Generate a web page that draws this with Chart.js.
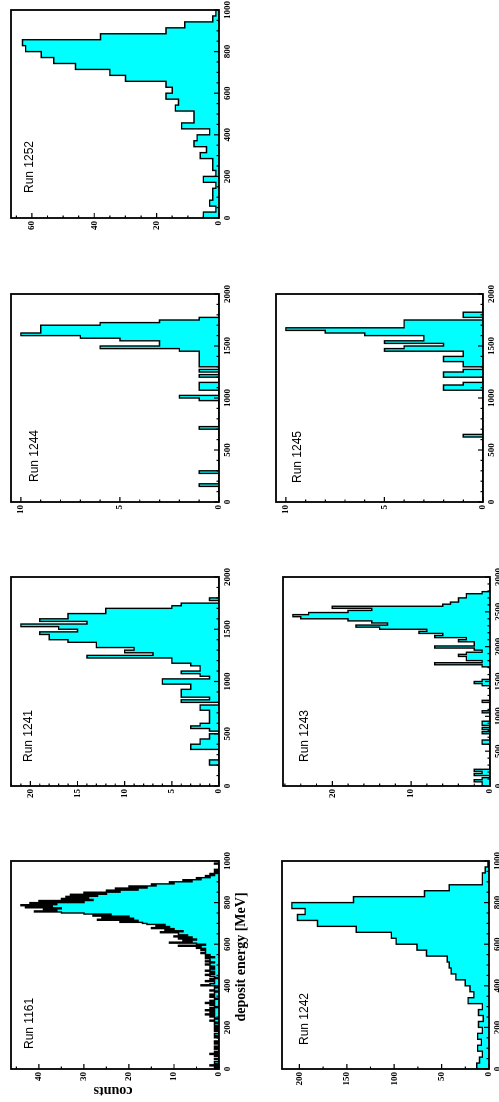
<!DOCTYPE html>
<html><head><meta charset="utf-8">
<script src="https://cdn.jsdelivr.net/npm/chart.js@4.4.0/dist/chart.umd.min.js"></script>
<style>
html,body{margin:0;padding:0;background:#fff;overflow:hidden;width:499px;height:1102px;}
#page{position:absolute;left:0;top:0;width:1102px;height:499px;transform-origin:0 0;transform:translate(0px,1102px) rotate(-90deg);}
#page canvas{position:absolute;}
</style></head><body><div id="page"></div>
<script>
// ---------- data ----------
const runNames = ['Run 1161', 'Run 1241', 'Run 1244', 'Run 1252', 'Run 1242', 'Run 1243', 'Run 1245'];
const xTitle = 'deposit energy [MeV]';
const yTitle = 'counts';

const run1161Range = [0, 1000];
const run1161Counts = [
 0,1,0,2,0,1,1,0,0,1,0,0,1,0,2,0,1,0,0,1,
 0,1,0,0,1,0,1,0,0,0,1,0,1,1,0,0,1,0,1,0,
 1,0,1,1,0,1,2,1,0,1,2,1,3,1,2,1,3,1,2,0,
 1,2,1,3,1,2,1,0,1,2,1,2,1,1,0,2,1,1,0,1,
 4,2,1,1,3,1,2,0,1,2,3,1,2,1,3,2,1,2,1,2,
 3,2,1,3,2,2,3,1,3,2,3,4,3,3,4,3,5,4,9,3,
 5,11,6,8,5,9,6,10,7,9,9,13,8,12,10,15,11,14,12,16,
 17,22,18,27,19,26,20,28,24,30,35,41,36,39,35,43,37,44,36,42,
 30,40,28,35,29,34,27,33,25,30,22,25,18,23,16,20,14,15,10,11,
 6,8,4,5,2,3,1,2,0,1,0,1,0,0,0,0,0,1,0,0];

const run1241Range = [0, 2000];
const run1241Counts = [
 0,0,0,0,0,0,0,0,1,1, 0,0,0,0,3,3,2,2,1,1,
 0,1,3,2,1,1,1,1,1,2, 2,0,4,1,4,4,4,3,3,6,
 6,1,2,4,2,2,3,5,5,14, 7,10,9,13,13,16,18,18,19,15,
 17,21,14,19,16,16,12,12,5,4, 0,1,0,0,0,0,0,0,0,0];

const run1244Range = [0, 2000];
const run1244Counts = [
 0,0,0,0,0,0,1,0,0,0, 0,1,0,0,0,0,0,0,0,0,
 0,0,0,0,0,0,0,0,1,0, 0,0,0,0,0,0,0,0,0,1,
 2,0,0,1,1,1,0,0,1,0, 1,0,1,1,1,1,1,1,2,6,
 3,3,5,7,10,9,9,9,6,3, 1,0,0,0,0,0,0,0,0,0];

const run1252Range = [0, 1000];
const run1252Counts = [5,1,3,2,2,1,5,1,2,2,6,4,8,7,3,12,8,8,14,13,17,15,17,30,35,46,53,57,62,63,38,17,11,2,1];

const run1242Range = [0, 1000];
const run1242Counts = [13,10,7,12,8,12,7,11,6,11,7,22,16,20,25,35,40,42,44,66,76,98,103,140,181,202,194,208,143,68,42,7,7,4,1];

const run1243Range = [0, 3000];
const run1243Counts = [
 1,1,2,1,0,2,1,2,0,0, 0,0,0,0,0,0,0,0,0,0,
 1,1,0,0,0,1,0,1,0,1, 1,0,0,0,0,1,0,0,0,0,
 1,0,0,0,0,0,0,0,1,2, 1,0,0,0,0,0,0,1,7,1,
 3,3,4,3,1,2,7,2,2,4, 3,7,6,9,8,14,17,13,15,18,
 24,25,23,18,15,20,6,5,4,4, 3,3,1,0,0,0,0,0,0,0];

const run1245Range = [0, 2000];
const run1245Counts = [
 0,0,0,0,0,0,0,0,0,0, 0,0,0,0,0,0,0,0,0,0,
 0,0,0,0,0,1,0,0,0,0, 0,0,0,0,0,0,0,0,0,0,
 0,0,0,2,2,1,0,0,2,2, 1,0,1,1,2,2,1,1,5,4,
 2,5,3,3,6,8,10,4,4,4, 0,1,1,0,0,0,0,0,0,0];

const energyTicks1000 = [0, 200, 400, 600, 800, 1000];
const energyTicks2000 = [0, 500, 1000, 1500, 2000];
const energyTicks3000 = [0, 500, 1000, 1500, 2000, 2500, 3000];
const countTicks1161 = [0, 10, 20, 30, 40];
const countTicks1241 = [0, 5, 10, 15, 20];
const countTicks1244 = [0, 5, 10];
const countTicks1252 = [0, 20, 40, 60];
const countTicks1242 = [0, 50, 100, 150, 200];
const countTicks1243 = [0, 10, 20];
const countTicks1245 = [0, 5, 10];
const countMax = [46.2, 22.05, 10.5, 66.7, 218.4, 26.25, 10.5];

const hists = [
 {counts: run1161Counts, range: run1161Range, xTicks: energyTicks1000, yTicks: countTicks1161},
 {counts: run1241Counts, range: run1241Range, xTicks: energyTicks2000, yTicks: countTicks1241},
 {counts: run1244Counts, range: run1244Range, xTicks: energyTicks2000, yTicks: countTicks1244},
 {counts: run1252Counts, range: run1252Range, xTicks: energyTicks1000, yTicks: countTicks1252},
 {counts: run1242Counts, range: run1242Range, xTicks: energyTicks1000, yTicks: countTicks1242},
 {counts: run1243Counts, range: run1243Range, xTicks: energyTicks3000, yTicks: countTicks1243},
 {counts: run1245Counts, range: run1245Range, xTicks: energyTicks2000, yTicks: countTicks1245}
];

// ---------- layout / style (positions in the unrotated landscape page) ----------
const layouts = [
 {frame:[33,11,208,208],  label:[20,22], xMinor:50,  yMinor:5,  titles:true},
 {frame:[316,11,209,208], label:[24,21], xMinor:100, yMinor:1},
 {frame:[600,11,208,208], label:[20,27], xMinor:100, yMinor:1},
 {frame:[884,11,208,208], label:[25,22], xMinor:50,  yMinor:5},
 {frame:[33,282,208,207], label:[24,26], xMinor:50,  yMinor:25},
 {frame:[316,283,209,207],label:[24,25], xMinor:100, yMinor:2},
 {frame:[600,276,208,207],label:[19,25], xMinor:100, yMinor:1}
];

const page = document.getElementById('page');

function histPoints(counts, range) {
  const n = counts.length, w = (range[1] - range[0]) / n;
  const pts = [{x: range[0], y: 0}];
  counts.forEach((c, i) => pts.push({x: range[0] + i * w, y: c}));
  pts.push({x: range[1], y: 0});
  return pts;
}

function makePanel(i) {
  const L = layouts[i], H = hists[i];
  const [fx, fy, fw, fh] = L.frame;
  const padL = 36, padT = 11, padR = 16, padB = 40, xAxisH = 20;
  const cw = fw + padL + padR, ch = fh + padT + padB;
  const cv = document.createElement('canvas');
  cv.width = cw; cv.height = ch;
  Object.assign(cv.style, {left: (fx - padL) + 'px', top: (fy - padT) + 'px', width: cw + 'px', height: ch + 'px'});
  page.appendChild(cv);
  const yMax = countMax[i];
  const tickFont = {family: '"Liberation Serif", "Times New Roman", serif', size: 9, weight: 'bold'};

  const decor = {
    id: 'decor' + i,
    afterDatasetsDraw(chart) {
      const ctx = chart.ctx, a = chart.chartArea, xs = chart.scales.x, ys = chart.scales.y;
      ctx.save();
      ctx.strokeStyle = '#000';
      ctx.lineWidth = 1.2;
      ctx.beginPath();
      for (let v = H.range[0]; v <= H.range[1] + 1e-9; v += L.xMinor) {
        const px = xs.getPixelForValue(v);
        const major = H.xTicks.includes(v);
        ctx.moveTo(px, a.bottom);
        ctx.lineTo(px, a.bottom - (major ? 5 : 2.5));
      }
      for (let v = 0; v <= yMax + 1e-9; v += L.yMinor) {
        const py = ys.getPixelForValue(v);
        const major = H.yTicks.includes(v);
        ctx.moveTo(a.left, py);
        ctx.lineTo(a.left + (major ? 5 : 2.5), py);
      }
      ctx.stroke();
      ctx.lineWidth = 1.8;
      ctx.strokeRect(a.left, a.top, a.right - a.left, a.bottom - a.top);
      ctx.fillStyle = '#000';
      ctx.font = '12px "Liberation Sans", Arial, sans-serif';
      ctx.textAlign = 'left';
      ctx.textBaseline = 'alphabetic';
      ctx.fillText(runNames[i], a.left + L.label[0], a.top + L.label[1]);
      if (L.titles) {
        ctx.font = 'bold 14px "Liberation Serif", "Times New Roman", serif';
        ctx.textAlign = 'center';
        ctx.fillText(xTitle, a.left + 112, a.bottom + 26);
        ctx.translate(a.left - 22, a.top + 102);
        ctx.rotate(-Math.PI / 2);
        ctx.textBaseline = 'middle';
        ctx.fillText(yTitle, 0, 0);
      }
      ctx.restore();
    }
  };

  new Chart(cv, {
    type: 'line',
    data: {datasets: [{
      data: histPoints(H.counts, H.range),
      stepped: 'before',
      fill: 'origin',
      backgroundColor: '#00ffff',
      borderColor: '#000000',
      borderWidth: 1.4,
      pointRadius: 0,
      tension: 0
    }]},
    options: {
      responsive: false, animation: false, devicePixelRatio: 1, events: [],
      layout: {padding: {left: 0, top: padT, right: padR, bottom: padB - xAxisH}},
      plugins: {legend: {display: false}, tooltip: {enabled: false}},
      scales: {
        x: {
          type: 'linear', min: H.range[0], max: H.range[1],
          grid: {display: false, drawTicks: false}, border: {display: false},
          ticks: {font: tickFont, color: '#000', padding: 3, maxRotation: 0, minRotation: 0, autoSkip: false,
                  callback: v => String(v)},
          afterBuildTicks: s => { s.ticks = H.xTicks.map(v => ({value: v})); },
          afterFit: s => { s.height = xAxisH; }
        },
        y: {
          type: 'linear', min: 0, max: yMax,
          grid: {display: false, drawTicks: false}, border: {display: false},
          ticks: {font: tickFont, color: '#000', padding: 3, autoSkip: false, callback: v => String(v)},
          afterBuildTicks: s => { s.ticks = H.yTicks.map(v => ({value: v})); },
          afterFit: s => { s.width = padL; }
        }
      }
    },
    plugins: [decor]
  });
}

for (let i = 0; i < hists.length; i++) makePanel(i);
</script></body></html>
